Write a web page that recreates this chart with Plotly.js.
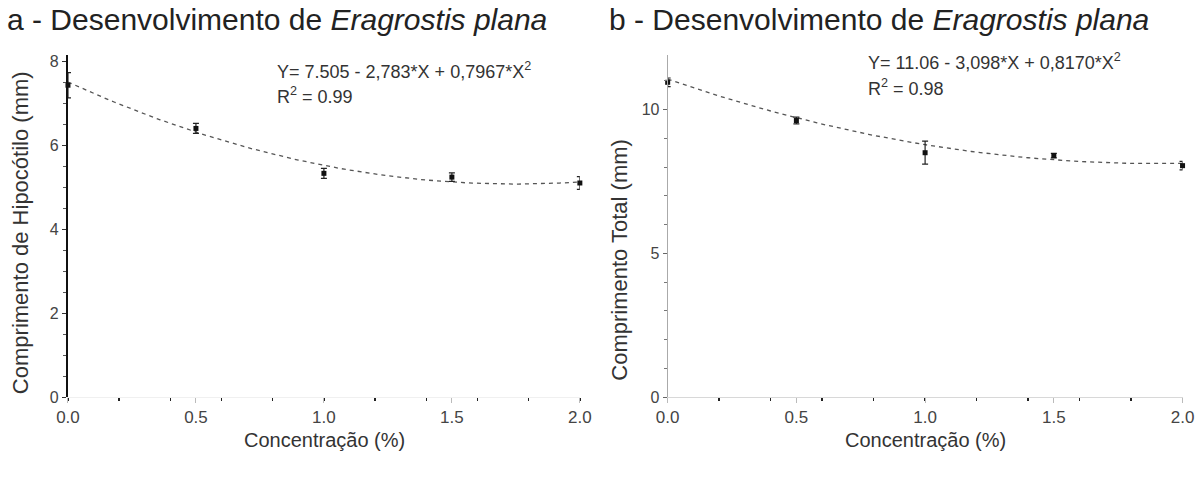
<!DOCTYPE html>
<html><head><meta charset="utf-8">
<script src="https://cdn.plot.ly/plotly-3.0.1.min.js"></script>
<style>body{margin:0;background:#fff}#c{width:1203px;height:480px}</style>
</head><body><div id="c"></div>
<script>
const conc = [0, 0.5, 1.0, 1.5, 2.0];
const hipocotilo = [7.43, 6.40, 5.33, 5.24, 5.10];
const hipocotiloErr = [0.30, 0.12, 0.12, 0.10, 0.15];
const total = [10.95, 9.62, 8.50, 8.40, 8.05];
const totalErr = [0.15, 0.12, 0.40, 0.08, 0.15];
const coefA = [7.505, -2.783, 0.7967];
const coefB = [11.06, -3.098, 0.8170];
const eqA = ["Y= 7.505 - 2,783*X + 0,7967*X<sup>2</sup>", "R<sup>2</sup> = 0.99"];
const eqB = ["Y= 11.06 - 3,098*X + 0,8170*X<sup>2</sup>", "R<sup>2</sup> = 0.98"];
const titleA = "a - Desenvolvimento de <i>Eragrostis plana</i>";
const titleB = "b - Desenvolvimento de <i>Eragrostis plana</i>";
const xTitle = "Concentração (%)";
const yTitleA = "Comprimento de Hipocótilo (mm)";
const yTitleB = "Comprimento Total (mm)";

const fitX = [];
for (let i = 0; i <= 100; i++) fitX.push(i * 0.02);
const poly = (c) => fitX.map(x => c[0] + c[1] * x + c[2] * x * x);

const font = "Liberation Sans, Arial, sans-serif";
const traces = [
  {x: fitX, y: poly(coefA), xaxis: 'x', yaxis: 'y', mode: 'lines',
   line: {color: '#555', width: 1.3, dash: '4px,4px'}, hoverinfo: 'skip'},
  {x: conc, y: hipocotilo, xaxis: 'x', yaxis: 'y', mode: 'markers', cliponaxis: false,
   marker: {symbol: 'square', size: 5, color: '#111'},
   error_y: {type: 'data', array: hipocotiloErr, color: '#222', thickness: 1.2, width: 3}},
  {x: fitX, y: poly(coefB), xaxis: 'x2', yaxis: 'y2', mode: 'lines',
   line: {color: '#555', width: 1.3, dash: '4px,4px'}, hoverinfo: 'skip'},
  {x: conc, y: total, xaxis: 'x2', yaxis: 'y2', mode: 'markers', cliponaxis: false,
   marker: {symbol: 'square', size: 5, color: '#111'},
   error_y: {type: 'data', array: totalErr, color: '#222', thickness: 1.2, width: 3}}
];

const xaxisBase = {
  range: [0, 2.0], tickvals: [0, 0.5, 1.0, 1.5, 2.0], ticktext: ['0.0','0.5','1.0','1.5','2.0'],
  showgrid: false, zeroline: false, showline: true, linewidth: 1,
  ticks: 'outside', ticklen: 5, tickcolor: '#bbb',
  minor: {dtick: 0.2, ticks: 'outside', ticklen: 3, tickcolor: '#222', tickwidth: 1.5},
  tickfont: {family: font, size: 17, color: '#444'}
};

const titleFont = {family: font, size: 20, color: '#333'};
const layout = {
  width: 1203, height: 480, showlegend: false,
  paper_bgcolor: '#fff', plot_bgcolor: '#fff',
  margin: {l: 0, r: 0, t: 55, b: 83},
  xaxis: Object.assign({}, xaxisBase, {domain: [0.0565, 0.482], anchor: 'y', linecolor: '#f0f0f0'}),
  xaxis2: Object.assign({}, xaxisBase, {domain: [0.555, 0.983], anchor: 'y2', linecolor: '#d8d8d8'}),
  yaxis: {domain: [0, 1], anchor: 'x', range: [0, 8.15], tickvals: [0, 2, 4, 6, 8],
    showgrid: false, zeroline: false, showline: true, linecolor: '#111', linewidth: 2,
    ticks: 'outside', ticklen: 4, tickcolor: '#333',
    minor: {dtick: 0.5, ticks: 'outside', ticklen: 3, tickcolor: '#555'},
    tickfont: {family: font, size: 16, color: '#444'}},
  yaxis2: {domain: [0, 1], anchor: 'x2', range: [0, 11.9], tickvals: [0, 5, 10],
    showgrid: false, zeroline: false, showline: true, linecolor: '#aaa', linewidth: 1,
    ticks: 'outside', ticklen: 4, tickcolor: '#666',
    minor: {dtick: 1, ticks: 'outside', ticklen: 3, tickcolor: '#777'},
    tickfont: {family: font, size: 16, color: '#444'}},
  annotations: [
    {text: titleA, xref: 'paper', yref: 'paper', x: 0.004, y: 1.105, xanchor: 'left', yanchor: 'middle',
     showarrow: false, font: {family: font, size: 30, color: '#222'}},
    {text: titleB, xref: 'paper', yref: 'paper', x: 0.5046, y: 1.105, xanchor: 'left', yanchor: 'middle',
     showarrow: false, font: {family: font, size: 30, color: '#222'}},
    {text: eqA[0], xref: 'paper', yref: 'paper', x: 0.2286, y: 0.956, xanchor: 'left', yanchor: 'middle',
     showarrow: false, font: {family: font, size: 18, color: '#333'}},
    {text: eqA[1], xref: 'paper', yref: 'paper', x: 0.2286, y: 0.883, xanchor: 'left', yanchor: 'middle',
     showarrow: false, font: {family: font, size: 18, color: '#333'}},
    {text: eqB[0], xref: 'paper', yref: 'paper', x: 0.72, y: 0.98, xanchor: 'left', yanchor: 'middle',
     showarrow: false, font: {family: font, size: 18, color: '#333'}},
    {text: eqB[1], xref: 'paper', yref: 'paper', x: 0.72, y: 0.906, xanchor: 'left', yanchor: 'middle',
     showarrow: false, font: {family: font, size: 18, color: '#333'}},
    {text: xTitle, xref: 'paper', yref: 'paper', x: 0.27, y: -0.125, xanchor: 'center', yanchor: 'middle',
     showarrow: false, font: titleFont},
    {text: xTitle, xref: 'paper', yref: 'paper', x: 0.769, y: -0.125, xanchor: 'center', yanchor: 'middle',
     showarrow: false, font: titleFont},
    {text: yTitleA, xref: 'paper', yref: 'paper', x: 0.0166, y: 0.482, xanchor: 'center', yanchor: 'middle',
     textangle: -90, showarrow: false, font: {family: font, size: 22, color: '#333'}},
    {text: yTitleB, xref: 'paper', yref: 'paper', x: 0.515, y: 0.40, xanchor: 'center', yanchor: 'middle',
     textangle: -90, showarrow: false, font: {family: font, size: 22, color: '#333'}}
  ]
};
Plotly.newPlot('c', traces, layout, {displayModeBar: false, staticPlot: true});
</script></body></html>
